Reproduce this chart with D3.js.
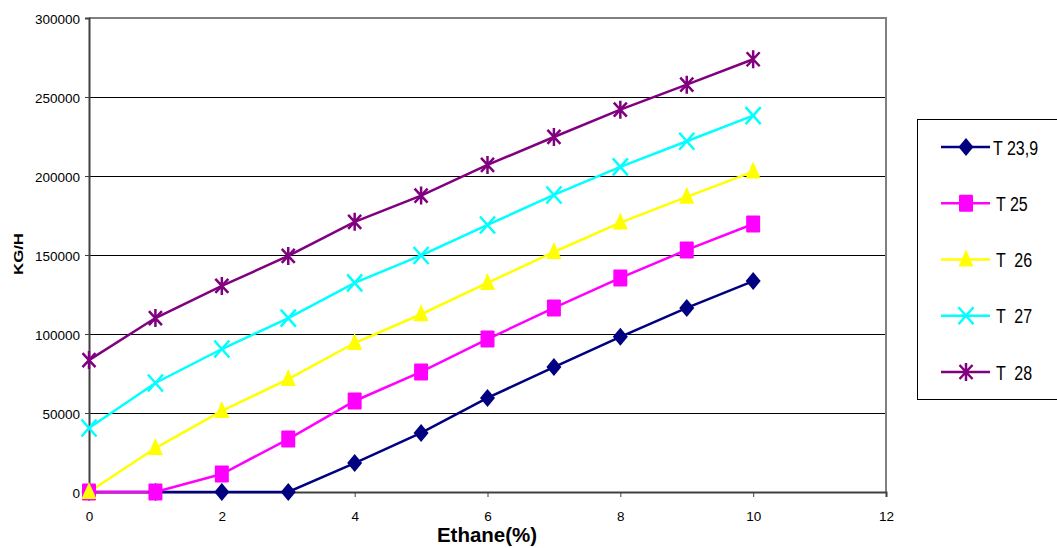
<!DOCTYPE html>
<html><head><meta charset="utf-8">
<script src="https://cdn.jsdelivr.net/npm/d3@7"></script>
<style>body{margin:0;background:#fff;}svg{display:block;font-family:"Liberation Sans",Arial,sans-serif;}</style>
</head><body><svg id="c" width="1057" height="548"></svg>
<script>
const xValues = [0,1,2,3,4,5,6,7,8,9,10];
const seriesNames = ["T 23,9","T 25","T  26","T  27","T  28"];
const seriesColors = ["#000080","#FF00FF","#FFFF00","#00FFFF","#800080"];
const seriesMarkers = ["diamond","square","triangle","x","star"];
const t239 = [0,0,0,0,18300,37400,59500,79100,98200,116500,133500];
const t25  = [0,0,11400,33500,57600,76000,96800,116500,135500,153200,169600];
const t26  = [0,27800,51300,71500,94300,112500,132300,151900,170500,186800,202800];
const t27  = [40500,69000,90500,110000,132400,149700,169000,188000,205800,222000,238200];
const t28  = [83500,110100,130400,149400,171000,187600,207000,224700,242000,257800,273900];
const yTicks = [0,50000,100000,150000,200000,250000,300000];
const xTicks = [0,2,4,6,8,10,12];
const seriesValues = [t239,t25,t26,t27,t28];

const svg = d3.select("#c");
const x = d3.scaleLinear().domain([0,12]).range([89,886]);
const y = d3.scaleLinear().domain([0,300000]).range([492,18]);

// gridlines
svg.append("g").selectAll("line").data(yTicks.filter(d=>d>0 && d<300000)).join("line")
  .attr("x1",x(0)).attr("x2",x(12)).attr("y1",d=>y(d)).attr("y2",d=>y(d))
  .attr("stroke","#000").attr("stroke-width",1).attr("shape-rendering","crispEdges");
// top/right border
svg.append("path").attr("d",`M${x(0)},${y(300000)}H${x(12)}V${y(0)}`)
  .attr("fill","none").attr("stroke","#808080").attr("stroke-width",2);

// axes
const yAxis = d3.axisLeft(y).tickValues(yTicks).tickSize(4).tickFormat(d3.format("d"));
const gy = svg.append("g").attr("transform",`translate(${x(0)},0)`).call(yAxis);
const xAxis = d3.axisBottom(x).tickValues(xTicks).tickSize(5).tickFormat(d3.format("d"));
const gx = svg.append("g").attr("transform",`translate(0,${y(0)})`).call(xAxis);
[gy,gx].forEach(g=>{
  g.select(".domain").attr("stroke","#404040").attr("stroke-width",2);
  g.selectAll(".tick line").attr("stroke","#404040").attr("stroke-width",1);
  g.selectAll("text").attr("fill","#000").attr("font-size",13.5).attr("font-family","Liberation Sans, Arial, sans-serif");
});
gy.selectAll("text").attr("x",-9).attr("dy",null).attr("y",5);
gx.selectAll("text").attr("dy",null).attr("y",29);

// titles
svg.append("text").attr("x",487).attr("y",542).attr("text-anchor","middle")
  .attr("font-size",20.5).attr("font-weight","bold").text("Ethane(%)");
svg.append("text").attr("transform","translate(23,254) rotate(-90)").attr("text-anchor","middle")
  .attr("font-size",12.5).attr("font-weight","bold")
  .attr("textLength",42).attr("lengthAdjust","spacingAndGlyphs").text("KG/H");

function marker(g, type, color){
  if(type==="diamond"){
    g.append("path").attr("d","M0,-9L7.5,0L0,9L-7.5,0Z").attr("fill",color);
  } else if(type==="square"){
    g.append("rect").attr("x",-7).attr("y",-8.5).attr("width",14).attr("height",17).attr("rx",1).attr("fill",color);
  } else if(type==="triangle"){
    g.append("path").attr("d","M0,-10L7.5,7L-7.5,7Z").attr("fill",color);
  } else if(type==="x"){
    g.append("path").attr("d","M-7.5,-8.5L7.5,8.5M-7.5,8.5L7.5,-8.5").attr("stroke",color).attr("stroke-width",2.5);
  } else if(type==="star"){
    g.append("path").attr("d","M-6.5,-7L6.5,7M-6.5,7L6.5,-7M0,-9V9").attr("stroke",color).attr("stroke-width",2.5);
  }
}

const line = d3.line().x((d,i)=>x(xValues[i])).y(d=>y(d));
seriesValues.forEach((vals,si)=>{
  svg.append("path").datum(vals).attr("d",line).attr("fill","none")
    .attr("stroke",seriesColors[si]).attr("stroke-width",2.5);
});
seriesValues.forEach((vals,si)=>{
  vals.forEach((v,i)=>{
    const g = svg.append("g").attr("transform",`translate(${x(xValues[i])},${y(v)})`);
    marker(g, seriesMarkers[si], seriesColors[si]);
  });
});

// legend
svg.append("rect").attr("x",917.5).attr("y",119.5).attr("width",160).attr("height",280)
  .attr("fill","#fff").attr("stroke","#000").attr("stroke-width",1);
const legY = d3.scaleLinear().domain([0,4]).range([147,372]);
seriesNames.forEach((n,si)=>{
  const yy = legY(si);
  svg.append("line").attr("x1",941).attr("x2",990).attr("y1",yy).attr("y2",yy)
    .attr("stroke",seriesColors[si]).attr("stroke-width",2.5);
  const g = svg.append("g").attr("transform",`translate(966,${yy})`);
  marker(g, seriesMarkers[si], seriesColors[si]);
  svg.append("g").attr("transform",`translate(${si===0?993:996},${yy+7.5})`)
    .append("text").attr("transform","scale(1,1.25)").attr("font-size",16)
    .style("white-space","pre").attr("xml:space","preserve").text(n);
});
</script></body></html>
